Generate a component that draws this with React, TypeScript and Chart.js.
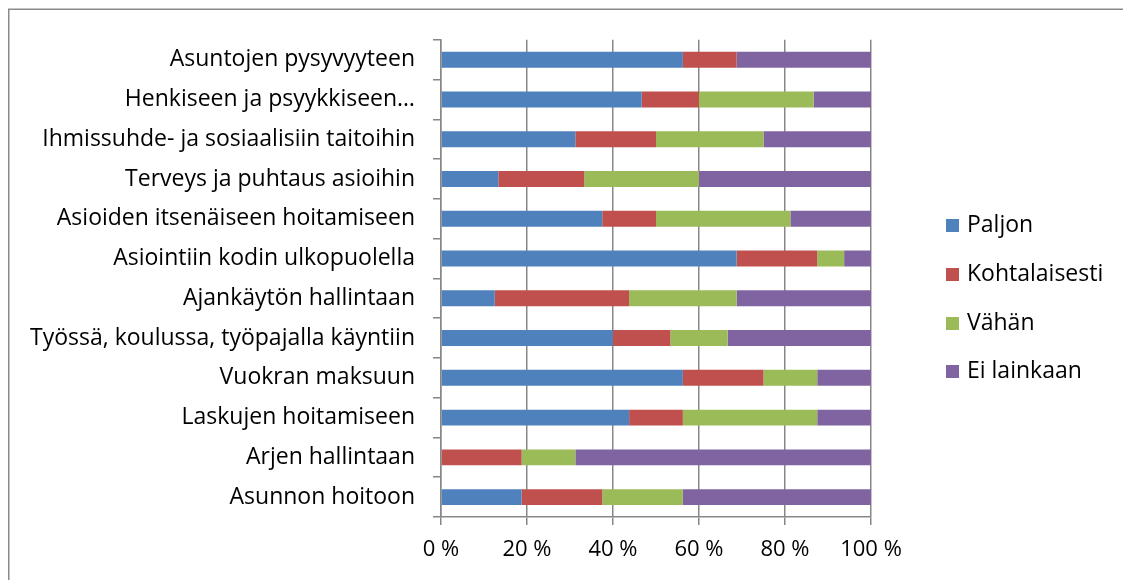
import React, { useEffect, useRef } from "react";
import { Chart, registerables } from "chart.js";

Chart.register(...registerables);

const categories = [
  "Asuntojen pysyvyyteen",
  "Henkiseen ja psyykkiseen…",
  "Ihmissuhde- ja sosiaalisiin taitoihin",
  "Terveys ja puhtaus asioihin",
  "Asioiden itsenäiseen hoitamiseen",
  "Asiointiin kodin ulkopuolella",
  "Ajankäytön hallintaan",
  "Työssä, koulussa, työpajalla käyntiin",
  "Vuokran maksuun",
  "Laskujen hoitamiseen",
  "Arjen hallintaan",
  "Asunnon hoitoon",
];

const paljon = [56.25, 46.67, 31.25, 13.33, 37.5, 68.75, 12.5, 40, 56.25, 43.75, 0, 18.75];
const kohtalaisesti = [12.5, 13.33, 18.75, 20, 12.5, 18.75, 31.25, 13.33, 18.75, 12.5, 18.75, 18.75];
const vahan = [0, 26.67, 25, 26.67, 31.25, 6.25, 25, 13.33, 12.5, 31.25, 12.5, 18.75];
const eiLainkaan = [31.25, 13.33, 25, 40, 18.75, 6.25, 31.25, 33.34, 12.5, 12.5, 68.75, 43.75];

const seriesNames = ["Paljon", "Kohtalaisesti", "Vähän", "Ei lainkaan"];
const seriesColors = ["#4F81BD", "#C0504D", "#9BBB59", "#8064A2"];
const xTicks = [0, 20, 40, 60, 80, 100];

const FONT = "'Open Sans', 'Noto Sans', sans-serif";

export default function App() {
  const ref = useRef<HTMLCanvasElement | null>(null);

  useEffect(() => {
    if (!ref.current) return;
    const seriesData = [paljon, kohtalaisesti, vahan, eiLainkaan];

    const framePlugin = {
      id: "frame",
      beforeDraw(chart: any) {
        const c = chart.ctx;
        c.save();
        c.fillStyle = "#ffffff";
        c.fillRect(0, 0, chart.width, chart.height);
        c.strokeStyle = "#8a8a8a";
        c.lineWidth = 1.5;
        c.beginPath();
        c.moveTo(0.75, chart.height + 2);
        c.lineTo(0.75, 1.25);
        c.lineTo(chart.width + 2, 1.25);
        c.stroke();
        c.restore();
      },
    };

    const legendPlugin = {
      id: "customLegend",
      afterDraw(chart: any) {
        const c = chart.ctx;
        c.save();
        c.font = `23px ${FONT}`;
        c.textBaseline = "middle";
        c.fillStyle = "#000";
        const ys = [217, 266, 315, 363];
        chart.data.datasets.forEach((ds: any, i: number) => {
          const y = ys[i];
          c.fillStyle = ds.backgroundColor;
          c.fillRect(938, y - 6, 13, 13);
          c.fillStyle = "#000";
          c.fillText(ds.label, 959, y);
        });
        c.restore();
      },
    };

    const chart = new Chart(ref.current, {
      type: "bar",
      data: {
        labels: categories,
        datasets: seriesNames.map((name, i) => ({
          label: name,
          data: seriesData[i],
          backgroundColor: seriesColors[i],
          borderWidth: 0,
          categoryPercentage: 1,
          barPercentage: 0.4,
        })),
      },
      options: {
        indexAxis: "y",
        responsive: false,
        animation: false,
        layout: { padding: { left: 0, top: 29, right: 260, bottom: 0 } },
        plugins: {
          legend: { display: false },
          tooltip: { enabled: false },
          title: { display: false },
        },
        scales: {
          x: {
            stacked: true,
            min: 0,
            max: 100,
            afterFit(scale: any) {
              scale.height = 63;
            },
            afterBuildTicks(scale: any) {
              scale.ticks = xTicks.map((v) => ({ value: v }));
            },
            ticks: {
              callback: (v: any) => `${v} %`,
              color: "#000",
              font: { family: FONT, size: 22 },
              padding: 12,
              maxRotation: 0,
            },
            grid: {
              color: "#878787",
              lineWidth: 1.5,
              tickLength: 8,
              drawTicks: true,
            },
            border: { color: "#878787", width: 1.5 },
          },
          y: {
            stacked: true,
            afterFit(scale: any) {
              scale.width = 433;
            },
            ticks: {
              color: "#000",
              font: { family: FONT, size: 23 },
              padding: 18,
              autoSkip: false,
            },
            grid: {
              offset: true,
              drawOnChartArea: false,
              drawTicks: true,
              tickLength: 8,
              color: "#878787",
              lineWidth: 1.5,
            },
            border: { color: "#878787", width: 1.5 },
          },
        },
      },
      plugins: [framePlugin, legendPlugin],
    } as any);

    return () => chart.destroy();
  }, []);

  return <canvas ref={ref} width={1123} height={572} style={{ display: "block" }} />;
}
